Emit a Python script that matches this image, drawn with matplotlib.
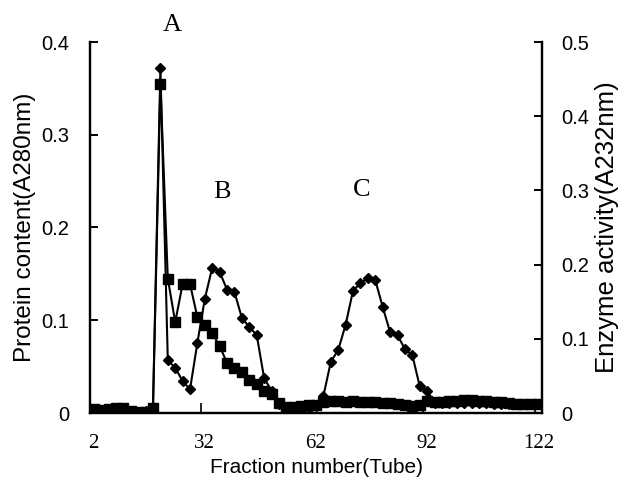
import numpy as np
import matplotlib
matplotlib.use("Agg")
import matplotlib.pyplot as plt

# ── Data (even fractions 2..122) ──────────────────────────────
fractions = list(range(2, 123, 2))

protein = [0.004, 0.003, 0.004, 0.005, 0.005, 0.002, 0.001, 0.001, 0.005, 0.355,
           0.145, 0.098, 0.139, 0.139, 0.103, 0.095, 0.086, 0.072, 0.054, 0.049,
           0.044, 0.036, 0.031, 0.024, 0.020, 0.011, 0.007, 0.007, 0.008, 0.009,
           0.009, 0.012, 0.013, 0.013, 0.012, 0.013, 0.012, 0.012, 0.012, 0.011,
           0.011, 0.010, 0.009, 0.008, 0.009, 0.013, 0.012, 0.012, 0.013, 0.013,
           0.014, 0.014, 0.013, 0.013, 0.012, 0.012, 0.011, 0.010, 0.010, 0.010,
           0.010]

enzyme = [0.005, 0.004, 0.005, 0.006, 0.004, 0.002, 0.002, 0.003, 0.008, 0.465,
          0.071, 0.061, 0.043, 0.032, 0.095, 0.154, 0.196, 0.190, 0.166, 0.163,
          0.128, 0.116, 0.105, 0.047, 0.030, 0.012, 0.000, 0.008, 0.010, 0.008,
          0.010, 0.023, 0.069, 0.085, 0.119, 0.165, 0.175, 0.182, 0.179, 0.143,
          0.109, 0.105, 0.086, 0.078, 0.036, 0.030, 0.014, 0.013, 0.013, 0.013,
          0.013, 0.013, 0.013, 0.013, 0.012, 0.012, 0.012, 0.012, 0.012, 0.012,
          0.012]

xtick_labels = [2, 32, 62, 92, 122]
xtick_marks = [31, 61, 91, 121]
peak_labels = ["A", "B", "C"]

SANS = "Liberation Sans"
SERIF = "Liberation Serif"

# ── Figure ────────────────────────────────────────────────────
W, H = 620, 490
fig = plt.figure(figsize=(W / 100, H / 100), dpi=100)
ax = fig.add_axes([90 / W, (H - 413) / H, 452 / W, (413 - 42) / H])
ax2 = ax.twinx()

ax.plot(fractions, protein, color="black", marker="s", markersize=6.5,
        linewidth=1.5, zorder=3)
ax2.plot(fractions, enzyme, color="black", marker="D", markersize=5.5,
         linewidth=1.5, zorder=3)

ax.set_xlim(1, 123)
ax.set_ylim(0, 0.4)
ax2.set_ylim(0, 0.5)

ax.set_yticks([0, 0.1, 0.2, 0.3, 0.4])
ax.set_yticklabels(["0", "0.1", "0.2", "0.3", "0.4"])
ax2.set_yticks([0, 0.1, 0.2, 0.3, 0.4, 0.5])
ax2.set_yticklabels(["0", "0.1", "0.2", "0.3", "0.4", "0.5"])

ax.set_xticks(xtick_labels)
ax.set_xticklabels([str(v) for v in xtick_labels], family=SERIF, fontsize=15)
ax.tick_params(axis="x", length=0, pad=15)
ax.set_xticks(xtick_marks, minor=True)
ax.tick_params(axis="x", which="minor", direction="in", length=7, width=1.2)

for a, pad in ((ax, 15), (ax2, 14)):
    a.spines["top"].set_visible(False)
    for s in ("left", "right", "bottom"):
        a.spines[s].set_linewidth(1.6)
    a.tick_params(axis="y", direction="in", length=6, width=1.4,
                  labelsize=14.5, pad=pad)
    for t in a.get_yticklabels():
        t.set_family(SANS)

ax.set_xlabel("Fraction number(Tube)", family=SANS, fontsize=15, labelpad=4)
ax.set_ylabel("Protein content(A280nm)", family=SANS, fontsize=17.5, labelpad=4)
ax2.set_ylabel("Enzyme activity(A232nm)", family=SANS, fontsize=18.5, labelpad=4)

# peak labels
for lab, (px, py) in zip(peak_labels, [(172, 25), (222, 192), (362, 190)]):
    fig.text(px / W, 1 - py / H, lab, family=SERIF, fontsize=19,
             ha="center", va="center")

fig.savefig("out.png", dpi=100)
